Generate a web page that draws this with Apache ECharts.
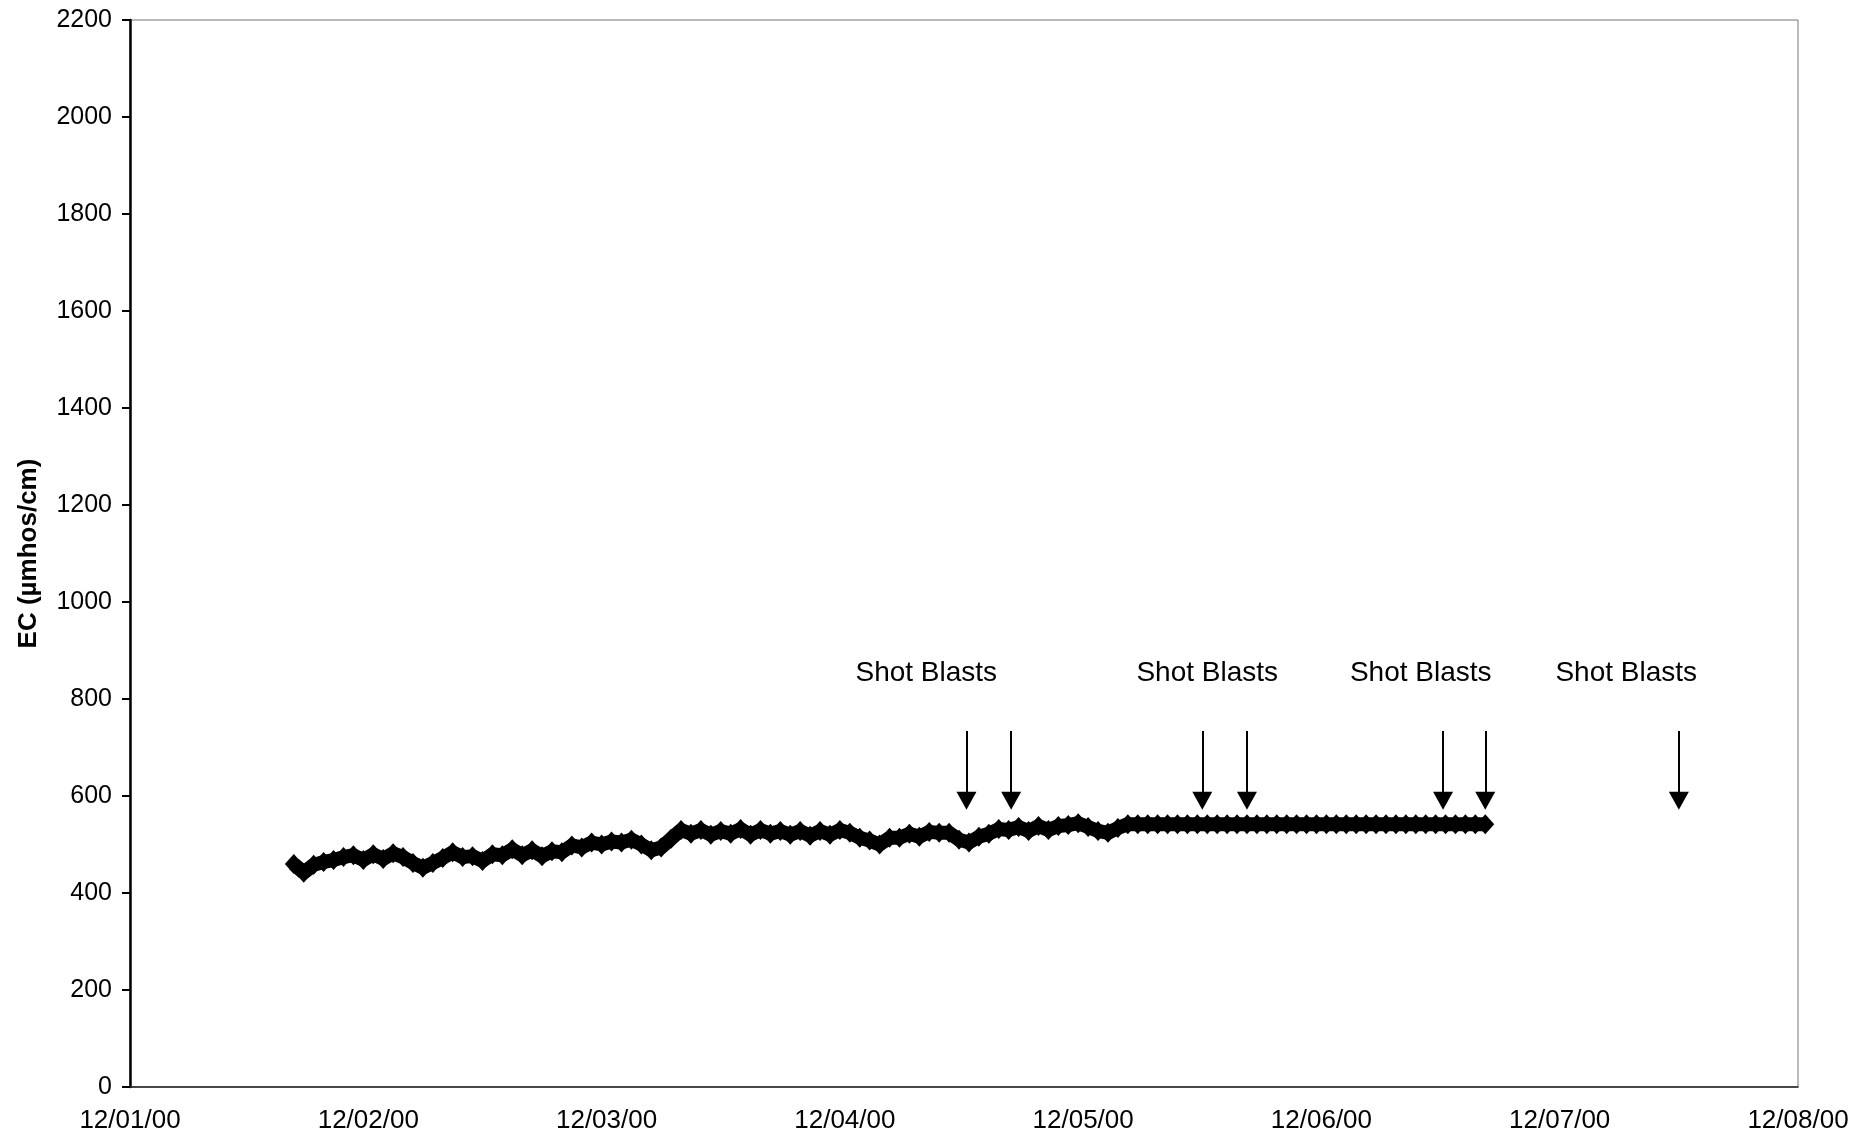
<!DOCTYPE html>
<html>
<head>
<meta charset="utf-8">
<script src="https://cdn.jsdelivr.net/npm/echarts@6/dist/echarts.min.js"></script>
<style>html,body{margin:0;padding:0;background:#fff;}#c{width:1874px;height:1142px;}</style>
</head>
<body>
<div id="c"></div>
<script>
// X axis: hours after 12/01/00 00:00
const tickLabels = ['12/01/00','12/02/00','12/03/00','12/04/00','12/05/00','12/06/00','12/07/00','12/08/00'];
const yTicks = [0,200,400,600,800,1000,1200,1400,1600,1800,2000,2200];
// hourly EC readings, first reading at 12/01/00 16:30
const firstHour = 16.5;
const ecValues = [
  460,442,458,464,468,474,478,468,480,470,482,474,
  462,452,462,472,484,474,476,466,480,478,490,478,
  488,476,486,484,498,494,504,500,506,504,510,500,
  488,494,512,530,522,530,520,528,522,532,520,530,
  522,528,520,528,518,528,520,530,524,514,508,500,
  514,514,522,516,526,524,524,510,504,516,522,532,
  530,536,528,538,530,538,540,544,536,528,524,534,
  542,542,542,542,542,542,542,542,542,542,542,542,
  542,542,542,542,542,542,542,542,542,542,542,542,
  542,542,542,542,542,542,542,542,542,542,542,542,
  542
];
// Shot blast arrows (hours after 12/01/00 00:00)
const blastHours = [84.25, 88.75, 108, 112.5, 132.25, 136.5, 156];
const arrowTop = 734;
const arrowEnd = 590;
// "Shot Blasts" labels
const labelHours = [80.2, 108.5, 130, 150.7];
const labelY = 852;
const labelText = 'Shot Blasts';

const FONT = "'Liberation Sans', Arial, sans-serif";
const chart = echarts.init(document.getElementById('c'), null, {renderer:'canvas'});
const ecData = ecValues.map((v,i)=>[firstHour+i, v]);
const option = {
  animation:false,
  backgroundColor:'#fff',
  grid:{left:130, right:76, top:20, bottom:55, containLabel:false,
    show:true, borderColor:'#777', borderWidth:1, backgroundColor:'transparent'},
  xAxis:[{
    type:'value', min:0, max:168, interval:24, position:'bottom',
    axisLine:{show:true, onZero:false, lineStyle:{color:'#222', width:1.5}},
    axisTick:{show:false},
    splitLine:{show:false},
    axisLabel:{color:'#000', fontFamily:FONT, fontSize:26, margin:21,
      formatter:(v)=>tickLabels[Math.round(v/24)] || ''}
  }],
  yAxis:[{
    type:'value', min:0, max:2200, interval:200, position:'left',
    name:'EC (µmhos/cm)', nameLocation:'middle', nameGap:88, nameRotate:90,
    nameTextStyle:{color:'#000', fontFamily:FONT, fontSize:26, fontWeight:'bold'},
    axisLine:{show:true, onZero:false, lineStyle:{color:'#000', width:2.5}},
    axisTick:{show:true, inside:false, length:8, lineStyle:{color:'#000', width:2}},
    splitLine:{show:false},
    axisLabel:{color:'#000', fontFamily:FONT, fontSize:25, margin:18,
      formatter:(v)=> yTicks.indexOf(v) >= 0 ? String(v) : ''}
  }],
  series:[{
    type:'line', name:'EC', data:ecData,
    symbol:'diamond', symbolSize:[18,20], showSymbol:true, showAllSymbol:true,
    lineStyle:{color:'#000', width:14},
    itemStyle:{color:'#000', opacity:1, borderWidth:0},
    silent:true, sampling:null
  },{
    type:'scatter', name:'labels',
    data:labelHours.map(h=>[h, labelY]),
    symbolSize:0,
    itemStyle:{opacity:1},
    label:{show:true, position:'inside', formatter:labelText, color:'#000',
      fontFamily:FONT, fontSize:28, textBorderWidth:0},
    silent:true,
    markLine:{
      silent:true, animation:false,
      symbol:['none','triangle'], symbolSize:[20,18],
      label:{show:false},
      lineStyle:{color:'#000', width:2, type:'solid', opacity:1},
      emphasis:{disabled:true},
      data: blastHours.map(h=>[{coord:[h, arrowTop]},{coord:[h, arrowEnd]}])
    }
  }]
};
chart.setOption(option);
</script>
</body>
</html>
